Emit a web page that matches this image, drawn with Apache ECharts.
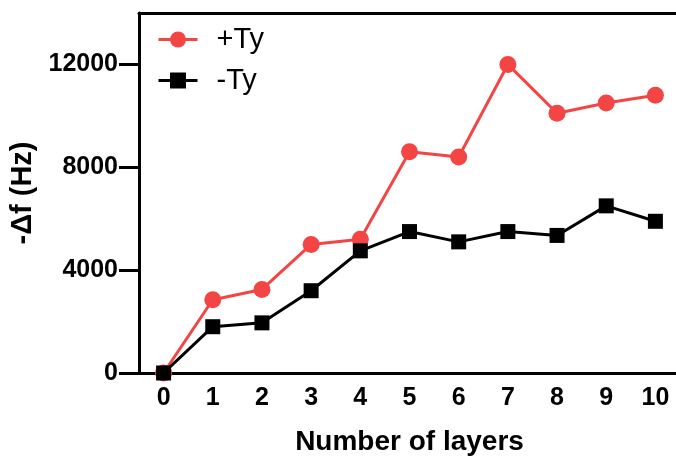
<!DOCTYPE html>
<html>
<head>
<meta charset="utf-8">
<script src="https://cdn.jsdelivr.net/npm/echarts@6/dist/echarts.min.js"></script>
<style>
html,body{margin:0;padding:0;background:#fff;}
#chart{width:676px;height:458px;}
</style>
</head>
<body>
<div id="chart"></div>
<script>
const categories = ['0','1','2','3','4','5','6','7','8','9','10'];
const plusTy = [0, 2850, 3250, 5000, 5200, 8600, 8400, 12000, 10100, 10500, 10800];
const minusTy = [0, 1800, 1950, 3200, 4750, 5500, 5100, 5500, 5350, 6500, 5900];
const yTicks = [0, 4000, 8000, 12000];

const FONT = '"Liberation Sans", Arial, sans-serif';
const chart = echarts.init(document.getElementById('chart'));
chart.setOption({
  animation: false,
  backgroundColor: '#fff',
  grid: {
    left: 139, width: 541, top: 13, height: 360,
    outerBoundsMode: 'none',
    containLabel: false,
    show: false
  },
  legend: {
    orient: 'vertical',
    left: 152, top: 20,
    itemWidth: 39, itemHeight: 20,
    itemGap: 12,
    lineStyle: { width: 3 },
    textStyle: { fontFamily: FONT, fontSize: 29, color: '#000', padding: [0, 0, 0, 14] },
    data: ['+Ty', '-Ty']
  },
  xAxis: [{
    type: 'category',
    data: categories,
    boundaryGap: true,
    name: 'Number of layers',
    nameLocation: 'middle',
    nameGap: 55,
    nameTextStyle: { fontFamily: FONT, fontSize: 28, fontWeight: 'bold', color: '#000' },
    axisLine: { lineStyle: { color: '#000', width: 3 } },
    axisTick: { alignWithLabel: true, length: 8, lineStyle: { color: '#000', width: 3 } },
    axisLabel: { fontFamily: FONT, fontSize: 25, fontWeight: 'bold', color: '#000', margin: 13 },
    splitLine: { show: false }
  }, {
    type: 'category',
    data: categories,
    position: 'top',
    axisLine: { show: true, lineStyle: { color: '#000', width: 3 } },
    axisTick: { show: false },
    axisLabel: { show: false },
    splitLine: { show: false }
  }],
  yAxis: {
    type: 'value',
    position: 'left',
    min: 0, max: 14000, interval: 4000,
    name: '-\u0394f (Hz)',
    nameLocation: 'middle',
    nameGap: 100,
    nameRotate: 90,
    nameTextStyle: { fontFamily: FONT, fontSize: 29, fontWeight: 'bold', color: '#000' },
    axisLine: { show: true, onZero: false, lineStyle: { color: '#000', width: 3 } },
    axisTick: { show: true, length: 20, lineStyle: { color: '#000', width: 3 } },
    axisLabel: {
      show: true,
      fontFamily: FONT, fontSize: 25, fontWeight: 'bold', color: '#000', margin: 21,
      showMaxLabel: false,
      formatter: v => (yTicks.indexOf(v) >= 0 ? String(v) : '')
    },
    splitLine: { show: false }
  },
  series: [
    {
      name: '+Ty', type: 'line', data: plusTy,
      symbol: 'circle', symbolSize: 17,
      itemStyle: { color: '#f44545' },
      lineStyle: { color: '#f44545', width: 3 },
      z: 2
    },
    {
      name: '-Ty', type: 'line', data: minusTy,
      symbol: 'rect', symbolSize: 15,
      itemStyle: { color: '#000' },
      lineStyle: { color: '#000', width: 3 },
      z: 3
    }
  ]
});
</script>
</body>
</html>
